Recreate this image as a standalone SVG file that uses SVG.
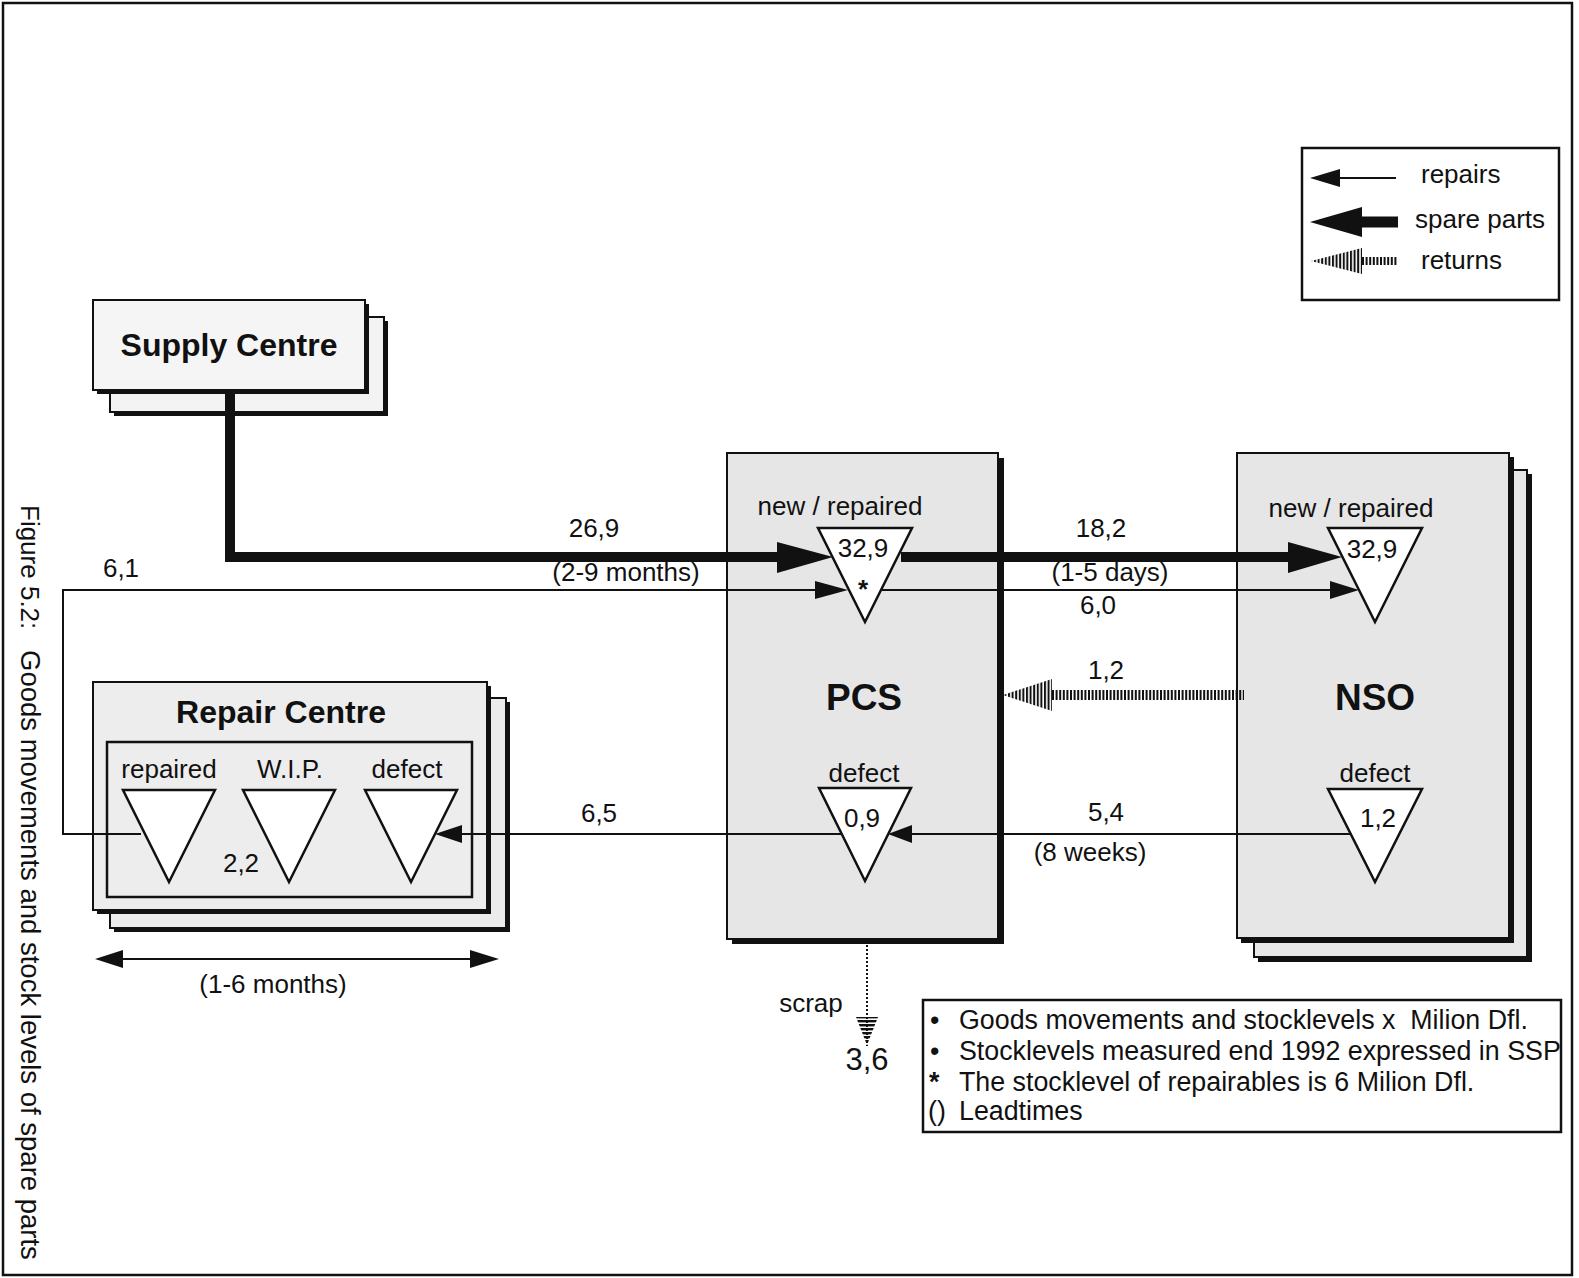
<svg xmlns="http://www.w3.org/2000/svg" width="1579" height="1278" viewBox="0 0 1579 1278">
<style>
  text { font-family: "Liberation Sans", Arial, sans-serif; fill: #111; }
  .t { font-size: 26px; }
  .n { font-size: 26.8px; }
  .c { text-anchor: middle; }
  .b { font-weight: bold; }
  .box { stroke: #111; stroke-width: 2; }
  .shadow { fill: #111; }
  .tri { fill: #fff; stroke: #111; stroke-width: 2.5; stroke-linejoin: miter; }
  .thin { fill: none; stroke: #111; stroke-width: 2; }
  .thick { fill: none; stroke: #111; stroke-width: 10; }
  .head { fill: #111; }
</style>
<defs>
  <pattern id="vstripes" patternUnits="userSpaceOnUse" width="3.6" height="10">
    <rect x="0" y="0" width="2" height="10" fill="#111"/>
  </pattern>
  <pattern id="hstripes" patternUnits="userSpaceOnUse" width="10" height="4">
    <rect x="0" y="0" width="10" height="2.4" fill="#111"/>
  </pattern>
</defs>
<rect width="1579" height="1278" fill="#fff"/>
<rect x="3" y="3" width="1569" height="1272" fill="none" stroke="#111" stroke-width="2.5"/>

<!-- caption -->
<g id="caption">
  <text transform="translate(21,505) rotate(90)" style="font-size:26px">Figure 5.2:</text>
  <text transform="translate(21,650) rotate(90)" style="font-size:27.5px">Goods movements and stock levels of spare parts</text>
</g>

<!-- legend -->
<g id="legend">
  <rect x="1302" y="148" width="257" height="152" fill="#fff" stroke="#111" stroke-width="2.5"/>
  <line x1="1338" y1="178" x2="1396" y2="178" stroke="#111" stroke-width="2"/>
  <polygon class="head" points="1310,178 1340,169 1340,187"/>
  <text class="t" x="1421" y="183">repairs</text>
  <line x1="1358" y1="222" x2="1398" y2="222" stroke="#111" stroke-width="11"/>
  <polygon class="head" points="1310,222 1362,207 1362,237"/>
  <text class="t" x="1415" y="228">spare parts</text>
  <line x1="1362" y1="261" x2="1398" y2="261" stroke="#111" stroke-width="8" stroke-dasharray="2 1.6"/>
  <polygon points="1311,261 1362,248 1362,274" fill="url(#vstripes)"/>
  <text class="t" x="1421" y="269">returns</text>
</g>

<!-- Supply Centre -->
<g id="supply-centre">
  <rect class="shadow" x="114" y="321" width="274" height="95"/>
  <rect class="box" x="110" y="317" width="274" height="95" fill="#f3f3f3"/>
  <rect class="shadow" x="97" y="304" width="272" height="90"/>
  <rect class="box" x="93" y="300" width="272" height="90" fill="#f5f5f5"/>
  <text class="c b" x="229" y="356" style="font-size:32px">Supply Centre</text>
</g>

<!-- PCS -->
<g id="pcs">
  <rect class="shadow" x="732" y="458" width="272" height="486"/>
  <rect class="box" x="727" y="453" width="271" height="486" fill="#e6e6e6"/>
  <text class="t c" x="840" y="515">new / repaired</text>
  <polygon class="tri" points="818,528 912,528 865,622"/>
  <text class="t c" x="863" y="557">32,9</text>
  <text class="t c b" x="863" y="598">*</text>
  <text class="c b" x="864" y="710" style="font-size:37px">PCS</text>
  <text class="t c" x="864" y="782">defect</text>
  <polygon class="tri" points="819,788 911,788 865,881"/>
  <text class="t c" x="862" y="827">0,9</text>
</g>

<!-- NSO -->
<g id="nso">
  <rect class="shadow" x="1258" y="474" width="274" height="488"/>
  <rect class="box" x="1254" y="470" width="273" height="487" fill="#e8e8e8"/>
  <rect class="shadow" x="1241" y="457" width="273" height="486"/>
  <rect class="box" x="1237" y="453" width="272" height="485" fill="#e6e6e6"/>
  <text class="t c" x="1351" y="517">new / repaired</text>
  <polygon class="tri" points="1328,528 1422,528 1375,622"/>
  <text class="t c" x="1372" y="558">32,9</text>
  <text class="c b" x="1375" y="710" style="font-size:37px">NSO</text>
  <text class="t c" x="1375" y="782">defect</text>
  <polygon class="tri" points="1328,789 1422,789 1375,882"/>
  <text class="t c" x="1378" y="827">1,2</text>
</g>

<!-- Repair Centre -->
<g id="repair-centre">
  <rect class="shadow" x="114" y="702" width="396" height="230"/>
  <rect class="box" x="110" y="698" width="396" height="230" fill="#ebebeb"/>
  <rect class="shadow" x="97" y="686" width="394" height="228"/>
  <rect class="box" x="93" y="682" width="394" height="228" fill="#ededed"/>
  <text class="c b" x="281" y="723" style="font-size:32px">Repair Centre</text>
  <rect x="107" y="742" width="365" height="155" fill="none" stroke="#111" stroke-width="2.5"/>
  <text class="t c" x="169" y="778">repaired</text>
  <text class="t c" x="290" y="778">W.I.P.</text>
  <text class="t c" x="407" y="778">defect</text>
  <polygon class="tri" points="123,790 215,790 169,882"/>
  <polygon class="tri" points="243,790 335,790 289,882"/>
  <polygon class="tri" points="365,790 457,790 411,882"/>
  <text class="t c" x="241" y="872">2,2</text>
</g>

<!-- connectors -->
<g id="connectors">
  <polyline class="thick" points="230,392 230,557 782,557" stroke-linejoin="miter"/>
  <polygon class="head" points="833,557 777,542 777,573"/>
  <line class="thick" x1="901" y1="557" x2="1295" y2="557"/>
  <polygon class="head" points="1342,557 1288,542 1288,573"/>
  <polyline class="thin" points="141,834 63,834 63,590 820,590"/>
  <polygon class="head" points="848,590 815,581 815,599"/>
  <line class="thin" x1="882" y1="590" x2="1335" y2="590"/>
  <polygon class="head" points="1359,590 1330,581 1330,599"/>
  <line x1="1052" y1="695" x2="1244" y2="695" stroke="#111" stroke-width="10" stroke-dasharray="2 1.6"/>
  <polygon points="1003,695 1052,679 1052,711" fill="url(#vstripes)"/>
  <line class="thin" x1="1351" y1="834" x2="905" y2="834"/>
  <polygon class="head" points="888,834 912,825 912,843"/>
  <line class="thin" x1="842" y1="834" x2="455" y2="834"/>
  <polygon class="head" points="435,834 462,825 462,843"/>
  <line x1="867" y1="945" x2="867" y2="1046" stroke="#111" stroke-width="2" stroke-dasharray="2 2"/>
  <polygon points="856,1017 878,1017 867,1045" fill="url(#hstripes)"/>
  <line class="thin" x1="115" y1="959" x2="480" y2="959"/>
  <polygon class="head" points="95,959 123,950 123,968"/>
  <polygon class="head" points="499,959 470,950 470,968"/>
</g>

<g id="labels">
  <text class="t c" x="594" y="537">26,9</text>
  <text class="t c" x="626" y="581">(2-9 months)</text>
  <text class="t c" x="1101" y="537">18,2</text>
  <text class="t c" x="1110" y="581">(1-5 days)</text>
  <text class="t c" x="1098" y="614">6,0</text>
  <text class="t c" x="121" y="577">6,1</text>
  <text class="t c" x="1106" y="679">1,2</text>
  <text class="t c" x="599" y="822">6,5</text>
  <text class="t c" x="1106" y="821">5,4</text>
  <text class="t c" x="1090" y="861">(8 weeks)</text>
  <text class="t c" x="273" y="993">(1-6 months)</text>
  <text class="t c" x="811" y="1012">scrap</text>
  <text class="c" x="867" y="1070" style="font-size:31px">3,6</text>
</g>

<g id="notes">
  <rect x="923" y="1000" width="638" height="132" fill="#fff" stroke="#111" stroke-width="2.5"/>
  <text class="n" x="930" y="1029">•</text>
  <text class="n" x="959" y="1029" xml:space="preserve">Goods movements and stocklevels x  Milion Dfl.</text>
  <text class="n" x="930" y="1060">•</text>
  <text class="n" x="959" y="1060">Stocklevels measured end 1992 expressed in SSP</text>
  <text class="n b" x="929" y="1091">*</text>
  <text class="n" x="959" y="1091">The stocklevel of repairables is 6 Milion Dfl.</text>
  <text class="n" x="928" y="1120">()</text>
  <text class="n" x="959" y="1120">Leadtimes</text>
</g>
</svg>
